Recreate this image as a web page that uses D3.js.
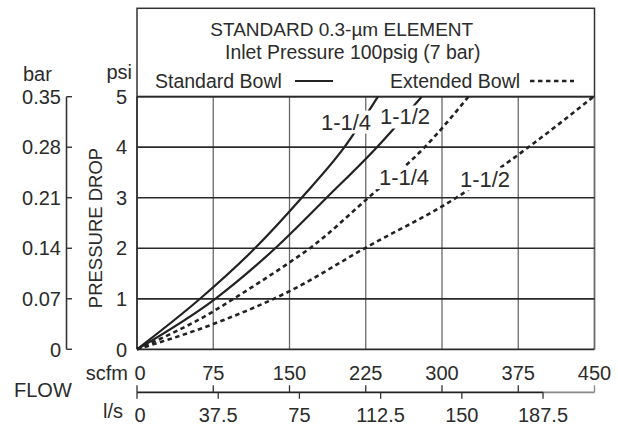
<!DOCTYPE html>
<html><head><meta charset="utf-8">
<script src="https://cdn.jsdelivr.net/npm/d3@7"></script>
<style>html,body{margin:0;padding:0;background:#fff}</style>
</head><body>
<svg id="c" width="618" height="425"></svg>
<script>
// ---- data ----
const scfmTicks = [0, 75, 150, 225, 300, 375, 450];
const lpsTicks = [0, 37.5, 75, 112.5, 150, 187.5];
const lpsLabels = ["0", "37.5", "75", "112.5", "150", "187.5"];
const psiTicks = [0, 1, 2, 3, 4, 5];
const barTicks = [0, 0.07, 0.14, 0.21, 0.28, 0.35];
const barLabels = ["0", "0.07", "0.14", "0.21", "0.28", "0.35"];
const titleLines = ["STANDARD 0.3-µm ELEMENT", "Inlet Pressure 100psig (7 bar)"];
const legendNames = ["Standard Bowl", "Extended Bowl"];

const std114Flow = [0, 62, 116, 162, 204, 237];
const std114Psi  = [0, 1, 2, 3, 4, 5];
const std112Flow = [0, 77, 136, 186.5, 236, 280];
const std112Psi  = [0, 1, 2, 3, 4, 5];
const ext114Flow = [0, 75, 95, 150, 170, 227.5, 283, 326];
const ext114Psi  = [0, 0.75, 1, 1.72, 2, 3, 4, 5];
const ext112Flow = [0, 75, 150, 224, 314, 385, 449];
const ext112Psi  = [0, 0.5, 1.15, 2, 3, 4, 5];

const series = [
  {name: "1-1/4", bowl: "Standard", flow: std114Flow, psi: std114Psi, lab: [346, 4.35]},
  {name: "1-1/2", bowl: "Standard", flow: std112Flow, psi: std112Psi, lab: [405, 4.45]},
  {name: "1-1/4", bowl: "Extended", flow: ext114Flow, psi: ext114Psi, lab: [404, 3.25]},
  {name: "1-1/2", bowl: "Extended", flow: ext112Flow, psi: ext112Psi, lab: [485, 3.22]}
];
const LPS_TO_SCFM = 2.13;

// ---- layout ----
const svg = d3.select("#c");
const FONT = "'Liberation Sans', Arial, sans-serif";
const TXT = "#2b2b2b";
const x = d3.scaleLinear().domain([0, 450]).range([137, 594.5]);
const y = d3.scaleLinear().domain([0, 5]).range([349.3, 96.7]);
const xl = d3.scaleLinear().domain([0, 450 / LPS_TO_SCFM]).range([137, 594.5]);

// header box
svg.append("rect").attr("x", x(0)).attr("y", 8.3).attr("width", x(450) - x(0)).attr("height", y(5) - 8.3)
  .attr("fill", "none").attr("stroke", "#333").attr("stroke-width", 1.5);
const cx = (x(0) + x(450)) / 2;
svg.append("text").text(titleLines[0]).attr("x", cx - 24).attr("y", 36).attr("text-anchor", "middle")
  .attr("font-family", FONT).attr("font-size", 19).attr("fill", TXT);
svg.append("text").text(titleLines[1]).attr("x", cx - 13).attr("y", 59).attr("text-anchor", "middle")
  .attr("font-family", FONT).attr("font-size", 19.4).attr("fill", TXT);
// legend
svg.append("text").text(legendNames[0]).attr("x", 155).attr("y", 88)
  .attr("font-family", FONT).attr("font-size", 19.5).attr("fill", TXT);
svg.append("line").attr("x1", 295).attr("x2", 333).attr("y1", 81).attr("y2", 81)
  .attr("stroke", "#222").attr("stroke-width", 2.2);
svg.append("text").text(legendNames[1]).attr("x", 390).attr("y", 88)
  .attr("font-family", FONT).attr("font-size", 19.5).attr("fill", TXT);
svg.append("line").attr("x1", 530).attr("x2", 574).attr("y1", 81).attr("y2", 81)
  .attr("stroke", "#222").attr("stroke-width", 2.6).attr("stroke-dasharray", "4.5,3.5");

// vertical grid
svg.append("g").selectAll("line").data(scfmTicks).join("line")
  .attr("x1", d => x(d)).attr("x2", d => x(d)).attr("y1", y(5)).attr("y2", y(0))
  .attr("stroke", d => d === 0 ? "#2a2a2a" : "#6a6a6a")
  .attr("stroke-width", d => d === 0 ? 1.8 : (d === 450 ? 1.8 : 1.3));
// horizontal grid
svg.append("g").selectAll("line").data(psiTicks).join("line")
  .attr("x1", x(0)).attr("x2", x(450)).attr("y1", d => y(d)).attr("y2", d => y(d))
  .attr("stroke", "#2a2a2a").attr("stroke-width", 1.7);

// curves
const line = d3.line().x(d => x(d[0])).y(d => y(d[1])).curve(d3.curveMonotoneX);
series.forEach(s => {
  const pts = s.flow.map((f, i) => [f, s.psi[i]]);
  svg.append("path").attr("d", line(pts)).attr("fill", "none").attr("stroke", "#222")
    .attr("stroke-width", s.bowl === "Standard" ? 2.2 : 2.6)
    .attr("stroke-dasharray", s.bowl === "Standard" ? null : "4.5,3.5");
});
// curve labels with white backing
series.forEach(s => {
  const g = svg.append("g");
  const t = g.append("text").text(s.name).attr("x", s.lab[0]).attr("y", y(s.lab[1]))
    .attr("text-anchor", "middle").attr("font-family", FONT).attr("font-size", 22).attr("fill", TXT);
  const b = t.node().getBBox();
  g.insert("rect", "text").attr("x", b.x - 3).attr("y", b.y + 1).attr("width", b.width + 6).attr("height", b.height - 2)
    .attr("fill", "#fff");
});

// left psi labels
svg.append("g").selectAll("text").data(psiTicks).join("text").text(d => d)
  .attr("x", 127).attr("y", d => y(d)).attr("dy", "0.36em").attr("text-anchor", "end")
  .attr("font-family", FONT).attr("font-size", 20).attr("fill", TXT);
svg.append("text").text("psi").attr("x", 132).attr("y", 79).attr("text-anchor", "end")
  .attr("font-family", FONT).attr("font-size", 20).attr("fill", TXT);
svg.append("text").text("PRESSURE DROP").attr("transform", `translate(95,${(y(0) + y(5)) / 2 + 5}) rotate(-90)`)
  .attr("dy", "0.36em").attr("text-anchor", "middle")
  .attr("font-family", FONT).attr("font-size", 18.5).attr("fill", TXT);

// bar axis
const yb = d3.scaleLinear().domain([0, 0.35]).range([y(0), y(5)]);
svg.append("line").attr("x1", 66.5).attr("x2", 66.5).attr("y1", yb(0)).attr("y2", yb(0.35))
  .attr("stroke", "#333").attr("stroke-width", 1.6);
svg.append("g").selectAll("line").data(barTicks).join("line")
  .attr("x1", 66.5).attr("x2", 72).attr("y1", d => yb(d)).attr("y2", d => yb(d))
  .attr("stroke", "#333").attr("stroke-width", 1.4);
svg.append("g").selectAll("text").data(barTicks).join("text").text((d, i) => barLabels[i])
  .attr("x", 61).attr("y", d => yb(d)).attr("dy", "0.36em").attr("text-anchor", "end")
  .attr("font-family", FONT).attr("font-size", 20).attr("fill", TXT);
svg.append("text").text("bar").attr("x", 23).attr("y", 81)
  .attr("font-family", FONT).attr("font-size", 20).attr("fill", TXT);

// bottom flow axes
svg.append("g").selectAll("text").data(scfmTicks).join("text").text(d => d)
  .attr("x", d => x(d) + (d === 0 ? 3 : 0)).attr("y", 380).attr("text-anchor", "middle")
  .attr("font-family", FONT).attr("font-size", 20).attr("fill", TXT);
svg.append("text").text("scfm").attr("x", 128).attr("y", 380).attr("text-anchor", "end")
  .attr("font-family", FONT).attr("font-size", 20).attr("fill", TXT);
svg.append("text").text("FLOW").attr("x", 14).attr("y", 397)
  .attr("font-family", FONT).attr("font-size", 20).attr("fill", TXT);
const AY = 392.3;
const lpsMax = lpsTicks[lpsTicks.length - 1];
svg.append("line").attr("x1", xl(0)).attr("x2", xl(lpsMax)).attr("y1", AY).attr("y2", AY)
  .attr("stroke", "#222").attr("stroke-width", 1.8);
svg.append("line").attr("x1", xl(lpsMax)).attr("x2", x(450)).attr("y1", AY).attr("y2", AY)
  .attr("stroke", "#888").attr("stroke-width", 1.8);
svg.append("g").selectAll("line").data(scfmTicks).join("line")
  .attr("x1", d => x(d)).attr("x2", d => x(d)).attr("y1", AY).attr("y2", AY - 7)
  .attr("stroke", d => d === 450 ? "#888" : "#333").attr("stroke-width", 1.3);
svg.append("g").selectAll("line").data(lpsTicks).join("line")
  .attr("x1", d => xl(d)).attr("x2", d => xl(d)).attr("y1", AY).attr("y2", AY + 6.5)
  .attr("stroke", "#333").attr("stroke-width", 1.3);
svg.append("g").selectAll("text").data(lpsTicks).join("text").text((d, i) => lpsLabels[i])
  .attr("x", d => xl(d) + (d === 0 ? 3 : 0)).attr("y", 422).attr("text-anchor", "middle")
  .attr("font-family", FONT).attr("font-size", 20).attr("fill", TXT);
svg.append("text").text("l/s").attr("x", 123).attr("y", 418).attr("text-anchor", "end")
  .attr("font-family", FONT).attr("font-size", 20).attr("fill", TXT);
</script>
</body></html>
